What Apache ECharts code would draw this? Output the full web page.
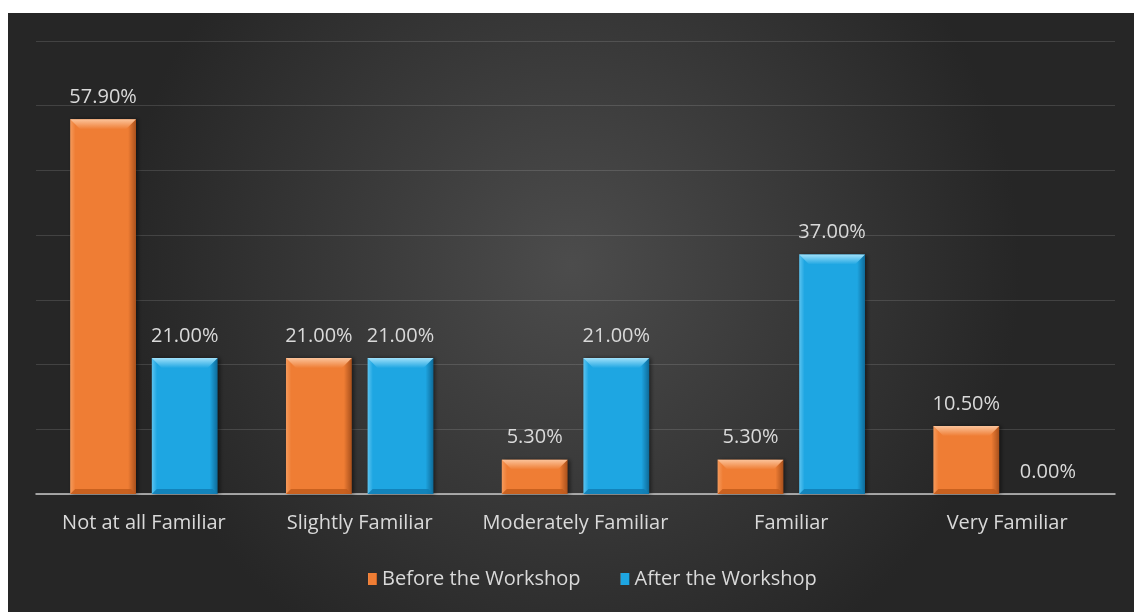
<!DOCTYPE html>
<html>
<head>
<meta charset="utf-8">
<script src="https://cdn.jsdelivr.net/npm/echarts@6/dist/echarts.min.js"></script>
<style>
  html, body { margin: 0; padding: 0; background: #ffffff; width: 1134px; height: 612px; overflow: hidden; }
  #chart { position: absolute; left: 8px; top: 13px; width: 1126px; height: 599px; }
</style>
</head>
<body>
<div id="chart"></div>
<script>
// Familiarity levels reported by participants
const categories = ['Not at all Familiar', 'Slightly Familiar', 'Moderately Familiar', 'Familiar', 'Very Familiar'];
const beforeWorkshop = [57.9, 21.0, 5.3, 5.3, 10.5];
const afterWorkshop = [21.0, 21.0, 21.0, 37.0, 0.0];
const seriesNames = ['Before the Workshop', 'After the Workshop'];
const yMax = 70;
const yStep = 10;

const textColor = '#d9d9d9';
const fontFamily = '"Open Sans", "Noto Sans", "Liberation Sans", sans-serif';
const fontSize = 20;

// Bar geometry shared by the bar series and the bevel overlay
const BAR_RATIO = 0.305;
const GAP_RATIO = 0.24;

const palette = [
  { light: '#f59a5c', base: '#ef7d34', dark: '#a8501c', top: '#fbc39a', bottom: '#c25c1c' },
  { light: '#5cc4f0', base: '#1ea6e2', dark: '#0e6a98', top: '#9fe0fa', bottom: '#117db4' }
];

// Bevelled bar fill: lighter left rim, darker right rim
function bevel(p) {
  return new echarts.graphic.LinearGradient(0, 0, 1, 0, [
    { offset: 0, color: p.light },
    { offset: 0.08, color: p.base },
    { offset: 0.88, color: p.base },
    { offset: 1, color: p.dark }
  ]);
}

// Top and bottom bevel facets drawn over each bar
function bevelOverlay(seriesIndex) {
  const p = palette[seriesIndex];
  return function (params, api) {
    const idx = api.value(0);
    const v = api.value(1);
    if (!(v > 0)) return null;
    const topPt = api.coord([idx, v]);
    const basePt = api.coord([idx, 0]);
    const catW = api.size([1, 0])[0];
    const barW = catW * BAR_RATIO;
    const gap = barW * GAP_RATIO;
    const total = barW * 2 + gap;
    const x0 = topPt[0] - total / 2 + seriesIndex * (barW + gap);
    const x1 = x0 + barW;
    const yT = topPt[1];
    const yB = basePt[1];
    const h = yB - yT;
    const d = Math.min(10, h / 3.5);
    const db = Math.min(5, h / 6);
    return {
      type: 'group',
      children: [
        {
          type: 'polygon',
          shape: { points: [[x0, yT], [x1, yT], [x1 - d, yT + d], [x0 + d, yT + d]] },
          style: {
            fill: new echarts.graphic.LinearGradient(0, 0, 0, 1, [
              { offset: 0, color: p.top },
              { offset: 1, color: p.base }
            ])
          }
        },
        {
          type: 'polygon',
          shape: { points: [[x0, yB], [x1, yB], [x1 - db, yB - db], [x0 + db, yB - db]] },
          style: { fill: p.bottom, opacity: 0.85 }
        }
      ]
    };
  };
}

const chart = echarts.init(document.getElementById('chart'), null, { renderer: 'canvas' });

const labelStyle = {
  show: true,
  position: 'top',
  distance: 12,
  color: textColor,
  fontSize: fontSize,
  fontFamily: fontFamily,
  formatter: p => p.value.toFixed(2) + '%'
};

chart.setOption({
  backgroundColor: new echarts.graphic.RadialGradient(0.5, 0.42, 0.75, [
    { offset: 0, color: '#4c4c4c' },
    { offset: 1, color: '#262626' }
  ]),
  animation: false,
  grid: { left: 28, right: 19, top: 28, bottom: 118, containLabel: false },
  legend: {
    data: seriesNames,
    bottom: 18,
    left: 355,
    itemWidth: 9,
    itemHeight: 12,
    itemGap: 40,
    icon: 'rect',
    textStyle: { color: textColor, fontSize: fontSize, fontFamily: fontFamily }
  },
  xAxis: {
    type: 'category',
    data: categories,
    axisLine: { show: true, lineStyle: { color: '#c8c8c8', width: 1.5 } },
    axisTick: { show: false },
    axisLabel: {
      interval: 0,
      hideOverlap: false,
      color: textColor,
      fontSize: fontSize,
      fontFamily: fontFamily,
      margin: 19
    }
  },
  yAxis: {
    type: 'value',
    min: 0,
    max: yMax,
    interval: yStep,
    axisLine: { show: false },
    axisTick: { show: false },
    axisLabel: { show: false },
    splitLine: { lineStyle: { color: 'rgba(255,255,255,0.13)', width: 1 } }
  },
  series: [
    {
      name: seriesNames[0],
      type: 'bar',
      data: beforeWorkshop,
      barWidth: (BAR_RATIO * 100) + '%',
      barGap: (GAP_RATIO * 100) + '%',
      itemStyle: {
        color: bevel(palette[0]),
        shadowColor: 'rgba(0,0,0,0.5)',
        shadowBlur: 4,
        shadowOffsetX: 2
      },
      label: labelStyle
    },
    {
      name: seriesNames[1],
      type: 'bar',
      data: afterWorkshop,
      barWidth: (BAR_RATIO * 100) + '%',
      itemStyle: {
        color: bevel(palette[1]),
        shadowColor: 'rgba(0,0,0,0.5)',
        shadowBlur: 4,
        shadowOffsetX: 2
      },
      label: labelStyle
    },
    {
      type: 'custom',
      silent: true,
      z: 3,
      renderItem: bevelOverlay(0),
      data: beforeWorkshop.map((v, i) => [i, v])
    },
    {
      type: 'custom',
      silent: true,
      z: 3,
      renderItem: bevelOverlay(1),
      data: afterWorkshop.map((v, i) => [i, v])
    }
  ]
});
</script>
</body>
</html>
